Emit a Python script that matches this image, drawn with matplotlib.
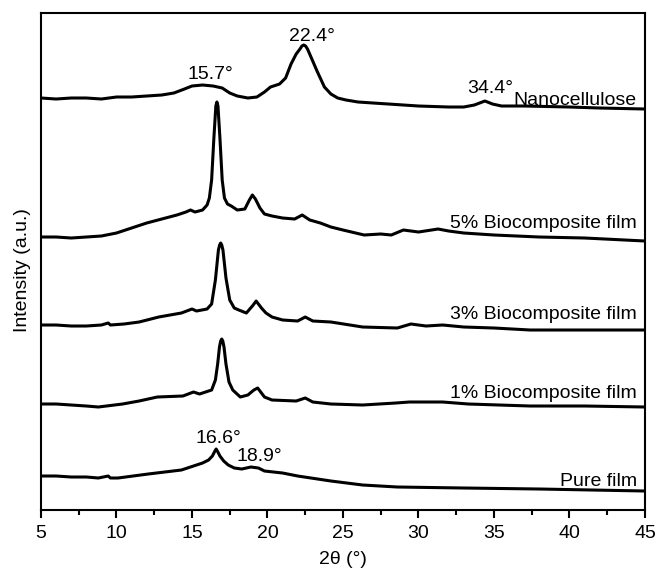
"""
xrd.py — stacked XRD patterns of nanocellulose and the biocomposite films.
"""

import matplotlib
matplotlib.use("Agg")
import matplotlib.pyplot as plt
from matplotlib.ticker import MultipleLocator

plt.rcParams["font.family"] = ["Liberation Sans", "DejaVu Sans"]

# ---------------------------------------------------------------------------
# Data (2θ in degrees, intensity in a.u., already offset for stacking)
# ---------------------------------------------------------------------------

nano_2theta = [5, 6, 7, 8, 9, 10, 11, 12, 13, 13.8, 14.5, 15, 15.7, 16.4, 17, 17.5,
               18, 18.7, 19.3, 19.8, 20.2, 20.8, 21.2, 21.56, 21.9, 22.15, 22.28,
               22.4, 22.52, 22.65, 22.88, 23.28, 23.77, 24.2, 24.65, 25.2, 26, 27,
               28, 30, 32, 33, 33.7, 34.4, 34.9, 35.5, 37, 40, 42, 45]
nano_int = [412, 411, 412, 412, 411, 413, 413, 414, 415, 417, 421, 424, 425, 424,
            422, 417, 414, 412, 413, 418, 423, 426, 432, 446, 456, 461, 464, 465,
            464, 461, 453, 439, 423, 416, 412, 410, 408, 407, 406, 404, 403, 403,
            405, 409, 406, 404, 404, 403, 402, 401]

bio5_2theta = [5, 6, 7, 8, 9, 10, 11, 12, 13, 14, 14.6, 14.9, 15.2, 15.7, 16.0,
               16.15, 16.3, 16.45, 16.58, 16.65, 16.72, 16.85, 17.0, 17.15, 17.35,
               17.6, 18.0, 18.5, 18.8, 19.0, 19.2, 19.5, 19.8, 20.3, 21, 21.8, 22.3,
               22.8, 23.5, 24.2, 25, 26.4, 27.5, 28.2, 29.0, 30, 31.3, 32, 33, 35,
               38, 41, 45]
bio5_int = [273, 273, 272, 273, 274, 277, 282, 287, 291, 295, 298, 300, 298, 300,
            305, 312, 330, 372, 404, 408, 404, 372, 330, 312, 306, 304, 300, 301,
            310, 315, 311, 302, 296, 294, 292, 291, 295, 290, 287, 283, 280, 275,
            276, 275, 280, 278, 281, 279, 277, 275, 273, 272, 269]

bio3_2theta = [5, 6, 7, 8, 9, 9.45, 9.6, 10.5, 11.5, 12.8, 14.3, 15.0, 15.3, 16.0,
               16.3, 16.55, 16.75, 16.83, 16.9, 16.97, 17.05, 17.25, 17.5, 17.8,
               18.1, 18.6, 19.0, 19.25, 19.6, 19.9, 20.3, 21, 22.0, 22.5, 23.0,
               24.2, 26.3, 28.6, 29.5, 30.5, 31.6, 33, 35, 37.4, 40, 45]
bio3_int = [185, 185, 184, 184, 185, 187, 185, 186, 188, 193, 197, 201, 199, 201,
            206, 230, 260, 265, 267, 265, 260, 232, 210, 202, 200, 197, 204, 209,
            202, 197, 193, 190, 189, 193, 189, 188, 183, 182, 186, 184, 185, 183,
            182, 180, 180, 180]

bio1_2theta = [5, 6, 7, 8, 8.8, 10.4, 11.5, 12.7, 14.4, 15.1, 15.5, 16.3, 16.55,
               16.7, 16.82, 16.9, 16.97, 17.04, 17.12, 17.25, 17.45, 17.7, 18.2,
               18.7, 19.1, 19.35, 19.8, 20.3, 21.9, 22.5, 23.0, 24.2, 26.3, 28.5,
               29.4, 31.6, 33.3, 37.4, 41, 45]
bio1_int = [106, 106, 105, 104, 103, 106, 109, 113, 114, 118, 116, 120, 130, 146,
            163, 169, 171, 169, 163, 146, 128, 120, 113, 115, 120, 122, 113, 110,
            109, 112, 108, 106, 105, 107, 108, 108, 106, 104, 104, 103]

pure_2theta = [5, 6, 7, 8, 8.8, 9.45, 9.6, 10.1, 12.1, 14.3, 15.7, 16.1, 16.35,
               16.52, 16.6, 16.68, 16.85, 17.1, 17.4, 17.8, 18.3, 18.9, 19.4, 19.8,
               21, 22.0, 24.2, 26.3, 28.6, 33, 38, 45]
pure_int = [34, 34, 33, 33, 32, 34, 32, 32, 36, 40, 47, 50, 54, 59, 61, 59, 54, 49,
            45, 42, 41, 43, 42, 39, 37, 34, 29, 25, 23, 22, 21, 19]

# curve names, drawn at the right end just above each trace
curve_labels = ["Nanocellulose", "5% Biocomposite film", "3% Biocomposite film",
                "1% Biocomposite film", "Pure film"]
curve_label_y = [405, 282, 191, 112, 24]

# peak positions (°) called out on the plot, with text anchor (x, baseline y)
peak_labels = ["22.4°", "15.7°", "34.4°", "16.6°", "18.9°"]
peak_label_x = [22.93, 16.25, 34.77, 16.77, 19.43]
peak_label_y = [469, 431, 417, 67, 49]

# ---------------------------------------------------------------------------
# Plot
# ---------------------------------------------------------------------------

fig = plt.figure(figsize=(6.57, 5.68), dpi=100)
ax = fig.add_axes([0.0624, 0.1021, 0.9193, 0.8750])

series = [
    (nano_2theta, nano_int),
    (bio5_2theta, bio5_int),
    (bio3_2theta, bio3_int),
    (bio1_2theta, bio1_int),
    (pure_2theta, pure_int),
]
for xs, ys in series:
    ax.plot(xs, ys, color="black", linewidth=2.2,
            solid_joinstyle="round", solid_capstyle="round")

for name, y in zip(curve_labels, curve_label_y):
    ax.text(44.45, y, name, ha="right", va="baseline", fontsize=14)

for txt, x, y in zip(peak_labels, peak_label_x, peak_label_y):
    ax.text(x, y, txt, ha="center", va="baseline", fontsize=14)

ax.set_xlim(5, 45)
ax.set_ylim(0, 497)
ax.set_yticks([])
ax.xaxis.set_major_locator(MultipleLocator(5))
ax.xaxis.set_minor_locator(MultipleLocator(2.5))
ax.tick_params(axis="x", which="major", direction="out", length=6, width=1.5,
               labelsize=14, pad=5)
ax.tick_params(axis="x", which="minor", direction="out", length=3.5, width=1.5)

for spine in ax.spines.values():
    spine.set_linewidth(1.5)

ax.set_xlabel("2θ (°)", fontsize=14, labelpad=6)
ax.set_ylabel("Intensity (a.u.)", fontsize=14)
ax.yaxis.set_label_coords(-0.017, 0.483)

fig.savefig("out.png", dpi=100)
plt.close(fig)
